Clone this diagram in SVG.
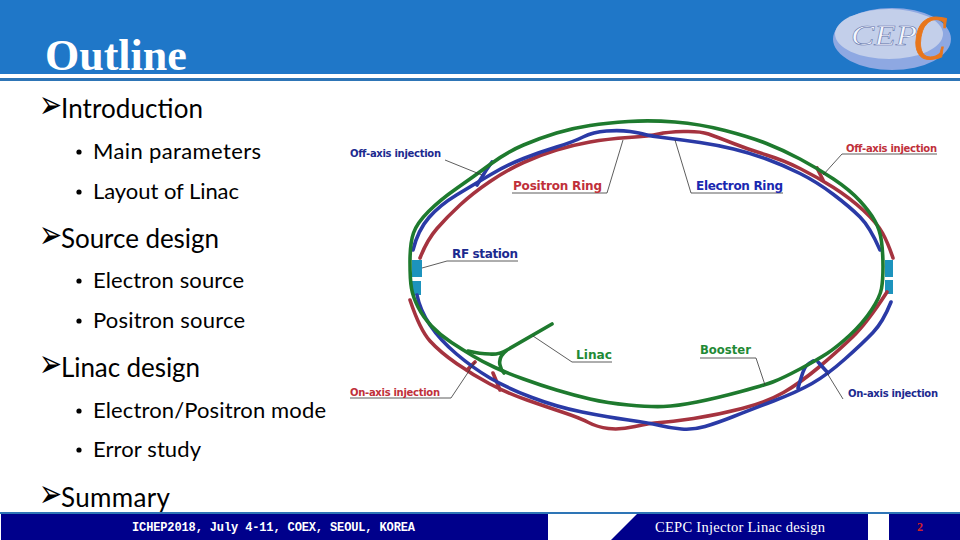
<svg xmlns="http://www.w3.org/2000/svg" width="960" height="540" viewBox="0 0 960 540">
<style>
.h{font-family:"Lato","Carlito","Liberation Sans",sans-serif;font-size:26px;fill:#000}
.s{font-family:"Lato","Carlito","Liberation Sans",sans-serif;font-size:22px;fill:#000}
.a{font-family:"DejaVu Sans",sans-serif;font-size:22px;fill:#000}
.l{font-family:"DejaVu Sans",sans-serif;font-weight:bold;font-size:10px}
.L{font-family:"DejaVu Sans",sans-serif;font-weight:bold;font-size:12px}
.M{font-family:"DejaVu Sans",sans-serif;font-weight:bold;font-size:11.5px}
.ring{fill:none;stroke-width:3.6;stroke-linecap:round;stroke-linejoin:round}
.r{stroke:#a5333f}.b{stroke:#2a3aa6}.g{stroke:#1e7a2e}
.lead{fill:none;stroke:#333;stroke-width:.8}
.rf{fill:#1d93bd}
.nav{fill:#1c2a8f}.red{fill:#c0303a}.grn{fill:#1f8a35}.blu{fill:#1a28b0}
</style>
<rect width="960" height="540" fill="#fff"/>
<g id="header">
<rect width="960" height="74" fill="#1f77c8"/>
<rect y="78" width="960" height="3" fill="#2e75b6"/>
<text x="45" y="70" font-family="Liberation Serif,serif" font-weight="bold" font-size="44" fill="#fff">Outline</text>
</g>
<g id="logo">
<ellipse cx="892" cy="39" rx="59" ry="31" fill="#8ea8e2"/>
<ellipse cx="889" cy="34" rx="54" ry="25" fill="#c3cfea"/>
<text x="851" y="45" font-family="Liberation Serif,serif" font-style="italic" font-size="30" fill="#f4f7fd" stroke="#5a6ea8" stroke-width=".5" textLength="66" lengthAdjust="spacingAndGlyphs">CEP</text>
<text x="913" y="59" font-family="Liberation Serif,serif" font-style="italic" font-size="64" fill="#e8761c" stroke="#e8761c" stroke-width="1" textLength="33" lengthAdjust="spacingAndGlyphs">C</text>
</g>
<g id="outline-text">
<text class="a" transform="translate(39,118) scale(1.25,1.8)">➢</text><text class="h" x="61" y="118" textLength="142">Introduction</text>
<circle cx="79" cy="152" r="2.6" fill="#000"/><text class="s" x="93" y="159" textLength="168">Main parameters</text>
<circle cx="79" cy="192" r="2.6" fill="#000"/><text class="s" x="93" y="199" textLength="146">Layout of Linac</text>
<text class="a" transform="translate(39,248) scale(1.25,1.8)">➢</text><text class="h" x="61" y="248" textLength="158">Source design</text>
<circle cx="79" cy="281" r="2.6" fill="#000"/><text class="s" x="93" y="288" textLength="151">Electron source</text>
<circle cx="79" cy="321" r="2.6" fill="#000"/><text class="s" x="93" y="328" textLength="152">Positron source</text>
<text class="a" transform="translate(39,377) scale(1.25,1.8)">➢</text><text class="h" x="61" y="377" textLength="139">Linac design</text>
<circle cx="79" cy="411" r="2.6" fill="#000"/><text class="s" x="93" y="418" textLength="233">Electron/Positron mode</text>
<circle cx="79" cy="450" r="2.6" fill="#000"/><text class="s" x="93" y="457" textLength="108">Error study</text>
<text class="a" transform="translate(39,507) scale(1.25,1.8)">➢</text><text class="h" x="61" y="507" textLength="109">Summary</text>
</g>
<g id="rf-stations">
<rect class="rf" x="412" y="260" width="10" height="17"/><rect class="rf" x="412" y="281" width="9" height="14"/>
<rect class="rf" x="885" y="260" width="8" height="17"/><rect class="rf" x="885" y="280" width="8" height="14"/>
</g>
<g id="positron-ring">
<path class="ring r" d="M420 258 Q427 240 437 228.5 Q447 217 460 205 Q473 193 490 181.5 Q507 170 523.5 162.5 Q540 155 556.5 150 Q573 145 590 142 Q607 139 628.5 137.5 Q650 136 658.5 134 Q667 132 683.5 131.5 Q700 131 708.5 134 Q717 137 733.5 143.5 Q750 150 766.5 155 Q783 160 800 168.5 Q817 177 833.5 187.5 Q850 198 863.5 210.5 Q877 223 882.5 233 Q888 243 893 258"/>
<path class="ring r" d="M887 292 Q867 323 852 337.5 Q837 352 818.5 367.5 Q800 383 783.5 392.5 Q767 402 742 408.5 Q717 415 693.5 418.5 Q670 422 660 422.5 Q650 423 635 426.5 Q620 430 608.5 428.5 Q597 427 588.5 422.5 Q580 418 563.5 412.5 Q547 407 527 400 Q507 393 490 384 Q473 375 456.5 363.5 Q440 352 430 341 Q420 330 410 300"/>
<path class="ring r" d="M475 362 L467 370 M493 373 Q496 380 500 390 M817 168 L823 180"/>
</g>
<g id="electron-ring">
<path class="ring b" d="M413 250 Q418 230 429 217.5 Q440 205 456.5 195 Q473 185 490 175 Q507 165 523.5 158.5 Q540 152 556.5 147 Q573 142 583 137 Q593 132 606.5 131 Q620 130 630 131.5 Q640 133 645 134.5 Q650 136 666.5 138 Q683 140 700 142.5 Q717 145 733.5 149 Q750 153 766.5 159 Q783 165 800 173.5 Q817 182 833.5 194.5 Q850 207 860 217 Q870 227 880 250"/>
<path class="ring b" d="M891 302 Q883 322 873 332.5 Q863 343 845 359 Q827 375 812 383.5 Q797 392 773.5 401 Q750 410 733.5 416.5 Q717 423 705 426.5 Q693 430 681.5 429 Q670 428 660 425.5 Q650 423 628.5 420 Q607 417 582 412 Q557 407 532 397.5 Q507 388 490 378 Q473 368 456.5 354 Q440 340 430 325 Q420 310 417 295"/>
<path class="ring b" d="M492 162 Q486 170 482 177 L477 185 M798 388 Q801 378 803 372 Q805 365 813 361 M818 362 L828 373"/>
</g>
<g id="booster">
<path class="ring g" d="M410 262 Q410 243 413.5 233 Q417 223 428.5 211.5 Q440 200 456.5 188.5 Q473 177 490 164.5 Q507 152 523.5 145 Q540 138 556.5 133 Q573 128 590 125.5 Q607 123 628.5 121.5 Q650 120 675 122 Q700 124 725 130.5 Q750 137 766.5 143.5 Q783 150 800 159 Q817 168 833.5 179 Q850 190 860 201 Q870 212 875 221 Q880 230 881.5 241.5 Q883 253 883 266.5 Q883 280 881.5 288.5 Q880 297 871.5 310 Q863 323 850 335 Q837 347 827 353.5 Q817 360 800 369 Q783 378 774 381.5 Q765 385 741 391.5 Q717 398 697 402 Q677 406 663.5 406.5 Q650 407 628.5 405 Q607 403 590 399 Q573 395 556.5 390 Q540 385 523.5 379 Q507 373 495 367.5 Q483 362 473 356 Q463 350 451.5 342.5 Q440 335 431.5 326 Q423 317 418 307 Q413 297 411.5 288.5 Q410 280 410 262 Z"/>
</g>
<g id="linac">
<path class="ring g" d="M552 324 L507 350 Q498 355 490 354 Q480 354 468 351 M507 350 Q498 357 500 365 Q501 370 504 373"/>
</g>
<g id="connectors">
<path class="lead" d="M445 160 L482 175"/>
<path class="lead" d="M512 193 H607 L623 140"/>
<path class="lead" d="M518 261 H447 L422 268"/>
<path class="lead" d="M675 140 L691 193 H783"/>
<path class="lead" d="M937 154 H842 L823 175"/>
<path class="lead" d="M533 336 L572 362 H612"/>
<path class="lead" d="M350 398 H451 L475 362"/>
<path class="lead" d="M700 358 H756 L765 385"/>
<path class="lead" d="M827 373 L843 399"/>
</g>
<g id="label-off-left"><text class="l nav" x="350" y="157" textLength="91">Off-axis injection</text></g>
<g id="label-off-right"><text class="l red" x="846" y="152" textLength="91">Off-axis injection</text></g>
<g id="label-positron"><text class="L red" x="513" y="190" textLength="89">Positron Ring</text></g>
<g id="label-electron"><text class="L blu" x="696" y="190" textLength="87">Electron Ring</text></g>
<g id="label-rf"><text class="L nav" x="452" y="258" textLength="66">RF station</text></g>
<g id="label-linac"><text class="M grn" x="576" y="359" textLength="36" lengthAdjust="spacingAndGlyphs">Linac</text></g>
<g id="label-booster"><text class="M grn" x="700" y="354" textLength="51" lengthAdjust="spacingAndGlyphs">Booster</text></g>
<g id="label-on-left"><text class="l red" x="350" y="396" textLength="90">On-axis injection</text></g>
<g id="label-on-right"><text class="l nav" x="848" y="397" textLength="90">On-axis injection</text></g>
<g id="footer">
<rect y="512" width="960" height="2" fill="#2e75b6"/>
<rect x="1" y="514" width="547" height="26" fill="#00008b"/>
<polygon points="637,514 868,514 868,540 611,540" fill="#00008b"/>
<rect x="889" y="514" width="71" height="26" fill="#00008b"/>
<text x="132" y="531" font-family="Liberation Mono,monospace" font-weight="bold" font-size="12" fill="#fff" textLength="283">ICHEP2018, July 4-11, COEX, SEOUL, KOREA</text>
<text x="655" y="532" font-family="Liberation Serif,serif" font-size="14.5" fill="#fff" textLength="170">CEPC Injector Linac design</text>
<text x="917" y="531" font-family="Liberation Serif,serif" font-weight="bold" font-size="12" fill="#d0202a">2</text>
</g>
</svg>
